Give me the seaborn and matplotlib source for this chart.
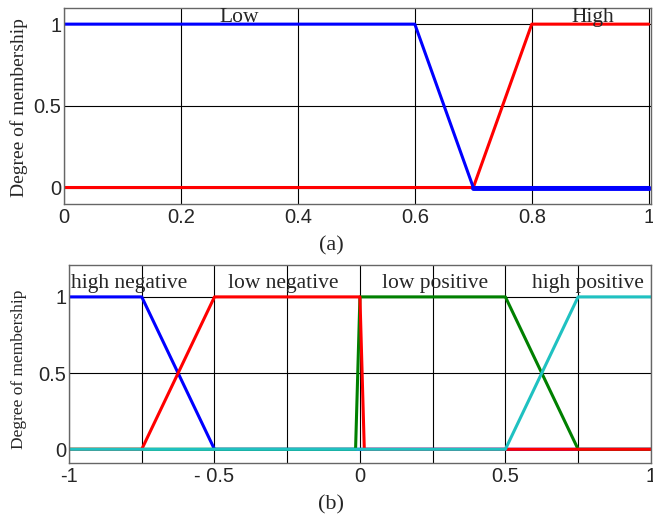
import numpy as np
import pandas as pd
import matplotlib
matplotlib.use("Agg")
import matplotlib.pyplot as plt
import seaborn as sns

# (a) two membership functions on [0, 1]
x_a = [0.0, 0.6, 0.7, 0.8, 1.0]
low_a = [1, 1, 0, 0, 0]
high_a = [0, 0, 0, 1, 1]

# (b) four membership functions on [-1, 1]
x_hn = [-1.0, -0.75, -0.5, 1.0]
high_neg = [1, 1, 0, 0]
x_ln = [-1.0, -0.75, -0.5, 0.0, 0.015, 1.0]
low_neg = [0, 0, 1, 1, 0, 0]
x_lp = [-1.0, -0.015, 0.0, 0.5, 0.75, 1.0]
low_pos = [0, 0, 1, 1, 0, 0]
x_hp = [-1.0, 0.5, 0.75, 1.0]
high_pos = [0, 0, 1, 1]

sns.set_style("white")
serif = ["Liberation Serif", "DejaVu Serif"]
sans = ["Liberation Sans", "DejaVu Sans"]
plt.rcParams["font.family"] = sans

fig = plt.figure(figsize=(6.53, 5.2), dpi=100)
ax1 = fig.add_axes([0.098, 0.608, 0.899, 0.377])
ax2 = fig.add_axes([0.1057, 0.1096, 0.891, 0.381])

df_a = pd.DataFrame({"x": x_a, "low": low_a, "high": high_a})
sns.lineplot(data=df_a, x="x", y="high", color="red", lw=2.2, sort=False, ax=ax1)
sns.lineplot(data=df_a, x="x", y="low", color="blue", lw=2.2, sort=False, ax=ax1)
# blue sits a bit heavier on the zero line after 0.7
tail = df_a[df_a["x"] >= 0.7]
sns.lineplot(data=tail, x="x", y="low", color="blue", lw=3.5, sort=False, ax=ax1)

series_b = [
    (x_hn, high_neg, "blue"),
    (x_lp, low_pos, "green"),
    (x_ln, low_neg, "red"),
    (x_hp, high_pos, "#1fc1c1"),
]
for xs, ys, c in series_b:
    d = pd.DataFrame({"x": xs, "y": ys})
    sns.lineplot(data=d, x="x", y="y", color=c, lw=2.2, sort=False, ax=ax2)

ax1.set_xlim(0, 1.004)
ax1.set_ylim(-0.1, 1.1)
ax1.set_xticks([0, 0.2, 0.4, 0.6, 0.8, 1])
ax1.set_xticklabels(["0", "0.2", "0.4", "0.6", "0.8", "1"])
ax2.set_xlim(-1, 1.0)
ax2.set_ylim(-0.09, 1.21)
ax2.set_xticks([-1, -0.75, -0.5, -0.25, 0, 0.25, 0.5, 0.75, 1])
ax2.set_xticklabels(["-1", "", "- 0.5", "", "0", "", "0.5", "", "1"])

for ax, ysz, lx, ly in [(ax1, 14, -0.061, 0.49), (ax2, 12.5, -0.072, 0.475)]:
    ax.set_yticks([0, 0.5, 1])
    ax.set_yticklabels(["0", "0.5", "1"])
    ax.grid(True, color="black", lw=0.8)
    ax.set_axisbelow(True)
    ax.tick_params(labelsize=14.5, length=0)
    ax.tick_params(axis="y", pad=2)
    ax.tick_params(axis="x", pad=3)
    ax.set_xlabel("")
    ax.set_ylabel("Degree of membership", family=serif, fontsize=ysz)
    ax.yaxis.set_label_coords(lx, ly)
    for s in ax.spines.values():
        s.set_color("#666666")
        s.set_linewidth(1)

ax1.text(0.3, 1.012, "Low", family=serif, fontsize=15.5, ha="center", va="baseline")
ax1.text(0.905, 1.012, "High", family=serif, fontsize=15.5, ha="center", va="baseline")

labels_b = [(-0.993, "high negative"), (-0.454, "low negative"), (0.076, "low positive"), (0.591, "high positive")]
for xl, t in labels_b:
    ax2.text(xl, 1.09, t, family=serif, fontsize=15.5, ha="left", va="center")

fig.text(331 / 653, 1 - 246 / 520, "(a)", family=serif, fontsize=16, ha="center", va="center")
fig.text(331 / 653, 1 - 505 / 520, "(b)", family=serif, fontsize=16, ha="center", va="center")

fig.savefig("out.png", dpi=100)
